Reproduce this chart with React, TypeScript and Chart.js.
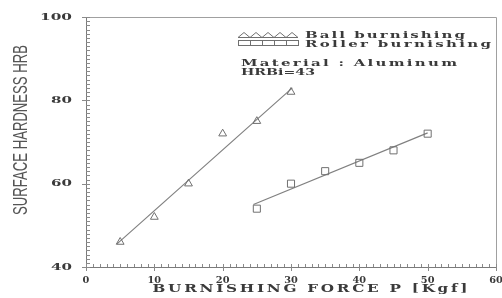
import React, { useEffect, useRef } from "react";
import { Chart, registerables } from "chart.js";

Chart.register(...registerables);

const ballForce = [5, 10, 15, 20, 25, 30];
const ballHardness = [46, 52, 60, 72, 75, 82];
const rollerForce = [25, 30, 35, 40, 45, 50];
const rollerHardness = [54, 60, 63, 65, 68, 72];
const ballFitForce = [4.5, 30.2];
const ballFitHardness = [45.5, 83];
const rollerFitForce = [24.5, 50];
const rollerFitHardness = [55, 72.2];
const xTickLabels = [0, 10, 20, 30, 40, 50, 60];
const yTickLabels = [40, 60, 80, 100];
const legendLabels = ["Ball burnishing", "Roller burnishing"];
const noteLines = ["Material : Aluminum", "HRBi=43"];
const xTitle = "BURNISHING FORCE P [Kgf]";
const yTitle = "SURFACE HARDNESS HRB";

const INK = "#3a3a3a";
const MARK = "#707070";

function hybridText(
  ctx: CanvasRenderingContext2D,
  text: string,
  x: number,
  y: number,
  width: number,
  font: string,
  align: "left" | "right" | "center",
  maxScale: number
) {
  ctx.save();
  ctx.font = font;
  ctx.textBaseline = "middle";
  ctx.textAlign = "left";
  const c: any = ctx;
  c.letterSpacing = "0px";
  const m = ctx.measureText(text).width;
  let x0 = x;
  if (align === "right") x0 = x - width;
  if (align === "center") x0 = x - width / 2;
  let s = width / m;
  const canSpace = "letterSpacing" in c && text.length > 1;
  if (canSpace && s > maxScale) s = maxScale;
  ctx.translate(x0, y);
  ctx.scale(s, 1);
  if (canSpace) {
    const rem = width - m * s;
    const sp = rem / ((text.length - 1) * s);
    c.letterSpacing = sp + "px";
  }
  ctx.fillText(text, 0, 0);
  ctx.restore();
}

const decorPlugin = {
  id: "decor",
  afterDraw(chart: any) {
    const ctx: CanvasRenderingContext2D = chart.ctx;
    const xs = chart.scales.x;
    const ys = chart.scales.y;
    const a = chart.chartArea;
    ctx.save();
    // frame
    ctx.strokeStyle = "#a0a0a0";
    ctx.lineWidth = 1;
    ctx.beginPath();
    ctx.moveTo(a.left + 0.5, a.top + 0.5);
    ctx.lineTo(a.right + 0.5, a.top + 0.5);
    ctx.lineTo(a.right + 0.5, a.bottom + 0.5);
    ctx.stroke();
    ctx.strokeStyle = "#7a7a7a";
    ctx.beginPath();
    ctx.moveTo(a.left + 0.5, a.top);
    ctx.lineTo(a.left + 0.5, a.bottom + 0.5);
    ctx.lineTo(a.right, a.bottom + 0.5);
    ctx.stroke();
    // minor ticks
    ctx.strokeStyle = "#8a8a8a";
    ctx.beginPath();
    for (let v = 40; v <= 100; v++) {
      const py = Math.round(ys.getPixelForValue(v)) + 0.5;
      const major = v % 20 === 0;
      ctx.moveTo(a.left - (major ? 4 : 0), py);
      ctx.lineTo(a.left + 4, py);
    }
    for (let v = 0; v <= 60; v++) {
      const px = Math.round(xs.getPixelForValue(v)) + 0.5;
      const major = v % 10 === 0;
      ctx.moveTo(px, a.bottom + (major ? 4 : 0));
      ctx.lineTo(px, a.bottom - 3);
    }
    ctx.stroke();
    // tick labels
    ctx.fillStyle = INK;
    const tf = 'bold 10px "DejaVu Serif"';
    yTickLabels.forEach((v) => {
      const s = String(v);
      hybridText(ctx, s, a.left - 14, ys.getPixelForValue(v), s.length * 11 - 1, tf, "right", 1.6);
    });
    xTickLabels.forEach((v) => {
      const s = String(v);
      hybridText(ctx, s, xs.getPixelForValue(v), a.bottom + 13, s.length * 6.8, tf, "center", 1.3);
    });
    // axis titles
    hybridText(ctx, xTitle, 310, 289, 315, 'bold 10.5px "DejaVu Serif"', "center", 1.45);
    ctx.save();
    ctx.fillStyle = "#555";
    ctx.translate(21, 130);
    ctx.rotate(-Math.PI / 2);
    hybridText(ctx, yTitle, 0, 0, 170, '20px "Liberation Sans Narrow", "Liberation Sans"', "center", 5);
    ctx.restore();
    // legend
    ctx.strokeStyle = MARK;
    ctx.lineWidth = 1;
    const lx = 238;
    for (let i = 0; i < 5; i++) {
      const cx = lx + 6 + i * 12;
      ctx.beginPath();
      ctx.moveTo(cx - 6, 37.5);
      ctx.lineTo(cx, 32.5);
      ctx.lineTo(cx + 6, 37.5);
      ctx.closePath();
      ctx.stroke();
      ctx.strokeRect(lx + i * 12 + 0.5, 40.5, 12, 5);
    }
    ctx.fillStyle = INK;
    const lf = 'bold 10px "DejaVu Serif"';
    hybridText(ctx, legendLabels[0], 305, 35, 160, lf, "left", 1.5);
    hybridText(ctx, legendLabels[1], 305, 44, 186, lf, "left", 1.5);
    hybridText(ctx, noteLines[0], 241, 63, 216, lf, "left", 1.5);
    hybridText(ctx, noteLines[1], 241, 72, 74, lf, "left", 1.5);
    ctx.restore();
  },
};

export default function App() {
  const ref = useRef<HTMLCanvasElement | null>(null);
  useEffect(() => {
    if (!ref.current) return;
    const pts = (xs: number[], ys: number[]) => xs.map((x, i) => ({ x, y: ys[i] }));
    const chart = new Chart(ref.current, {
      type: "scatter",
      data: {
        datasets: [
          {
            label: legendLabels[0],
            data: pts(ballForce, ballHardness),
            pointStyle: "triangle",
            pointRadius: 4.5,
            borderColor: MARK,
            backgroundColor: "rgba(0,0,0,0)",
            borderWidth: 1,
          },
          {
            label: legendLabels[1],
            data: pts(rollerForce, rollerHardness),
            pointStyle: "rect",
            pointRadius: 5,
            borderColor: MARK,
            backgroundColor: "rgba(0,0,0,0)",
            borderWidth: 1,
          },
          {
            label: "ball fit",
            data: pts(ballFitForce, ballFitHardness),
            showLine: true,
            pointRadius: 0,
            borderColor: "#808080",
            borderWidth: 1.2,
          },
          {
            label: "roller fit",
            data: pts(rollerFitForce, rollerFitHardness),
            showLine: true,
            pointRadius: 0,
            borderColor: "#808080",
            borderWidth: 1.2,
          },
        ],
      },
      options: {
        responsive: false,
        animation: false,
        layout: { padding: { top: 17, right: 4, left: 0, bottom: 0 } },
        plugins: { legend: { display: false }, tooltip: { enabled: false } },
        scales: {
          x: {
            type: "linear",
            min: 0,
            max: 60,
            ticks: { display: false },
            grid: { display: false },
            border: { display: false },
            afterFit: (s: any) => {
              s.height = 31;
            },
          },
          y: {
            type: "linear",
            min: 40,
            max: 100,
            ticks: { display: false },
            grid: { display: false },
            border: { display: false },
            afterFit: (s: any) => {
              s.width = 86;
            },
          },
        },
      },
      plugins: [decorPlugin],
    });
    return () => chart.destroy();
  }, []);
  return (
    <div style={{ position: "fixed", left: 0, top: 0, width: 502, height: 298, background: "#fff" }}>
      <canvas ref={ref} width={502} height={298} />
    </div>
  );
}
